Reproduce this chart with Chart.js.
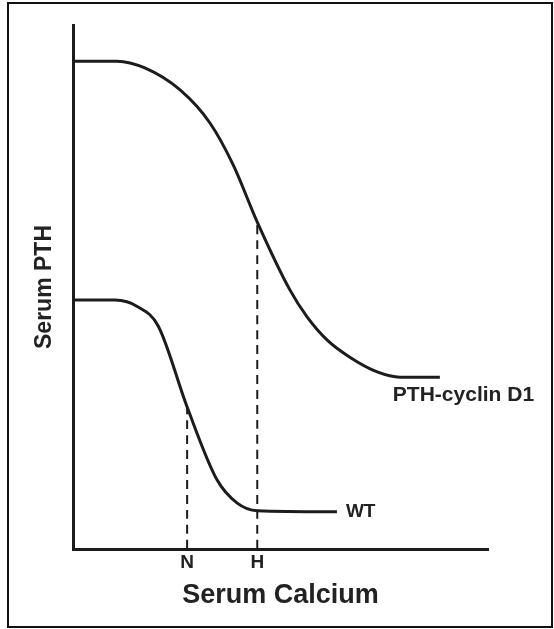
<!DOCTYPE html>
<html>
<head>
<meta charset="utf-8">
<script src="https://cdn.jsdelivr.net/npm/chart.js@4/dist/chart.umd.min.js"></script>
<style>
  html, body { margin: 0; padding: 0; background: #fff; }
  #wrap { position: relative; width: 554px; height: 629px; }
  #frame { position: absolute; left: 7px; top: 2px; width: 546px; height: 626px; box-sizing: border-box; border: 2px solid #111; pointer-events: none; }
</style>
</head>
<body>
<div id="wrap">
  <canvas id="c"></canvas>
  <div id="frame"></div>
</div>
<script>
// ---- data (relative units) ----
const calciumCyclin = [0, 10.6, 17.3, 25.8, 33.0, 38.6, 44.4, 52.3, 56.4, 61.2, 66.7, 73.3, 78.8, 88.4];
const pthCyclin     = [93.1, 93.1, 91.8, 87.6, 81.3, 73.3, 62.4, 49.4, 44.3, 39.9, 36.6, 33.8, 32.8, 32.8];
const calciumWT = [0, 10.1, 15.7, 20.5, 27.5, 34.7, 39.5, 44.4, 63.6];
const pthWT     = [47.5, 47.5, 46.2, 42.6, 27.1, 13.2, 8.8, 7.3, 7.1];
const seriesNames = ['PTH-cyclin D1', 'WT'];
const tickLabels = ['N', 'H'];
const tickValues = [27.5, 44.4];
const guideTops  = [27.1, 62.4];
const xTitle = 'Serum Calcium';
const yTitle = 'Serum PTH';

const ink = '#1c1c1c';
const FONT = '"Liberation Sans", Arial, Helvetica, sans-serif';

const toPts = (xs, ys) => xs.map((x, i) => ({ x, y: ys[i] }));

const curveStyle = { borderColor: ink, borderWidth: 3, pointRadius: 0, fill: false, cubicInterpolationMode: 'monotone', clip: false };
const guideStyle = { borderColor: ink, borderWidth: 2, pointRadius: 0, fill: false, borderDash: [9, 6], clip: false };

const datasets = [
  Object.assign({ label: seriesNames[0], data: toPts(calciumCyclin, pthCyclin) }, curveStyle),
  Object.assign({ label: seriesNames[1], data: toPts(calciumWT, pthWT) }, curveStyle),
];
tickValues.forEach((v, i) => {
  datasets.push(Object.assign({ label: 'guide ' + tickLabels[i], data: [{ x: v, y: 0 }, { x: v, y: guideTops[i] }] }, guideStyle));
});

// series labels placed next to the end of each curve (pixel offsets)
const labelOffsets = [ { dx: -47, dy: 18 }, { dx: 9, dy: 0 } ];
const labelFonts = [ 'bold 21px ' + FONT, 'bold 19px ' + FONT ];

const seriesLabelPlugin = {
  id: 'seriesLabels',
  afterDatasetsDraw(chart) {
    const { ctx, scales: { x, y } } = chart;
    ctx.save();
    ctx.fillStyle = '#222';
    ctx.textAlign = 'left';
    ctx.textBaseline = 'middle';
    [0, 1].forEach(i => {
      const d = chart.data.datasets[i].data;
      const last = d[d.length - 1];
      const px = x.getPixelForValue(last.x) + labelOffsets[i].dx;
      const py = y.getPixelForValue(last.y) + labelOffsets[i].dy;
      ctx.font = labelFonts[i];
      ctx.fillText(seriesNames[i], px, py);
    });
    ctx.restore();
  }
};

new Chart(document.getElementById('c'), {
  type: 'line',
  data: { datasets },
  options: {
    responsive: true,
    maintainAspectRatio: false,
    animation: false,
    layout: { padding: { top: 25, right: 66, left: 27, bottom: 17.4 } },
    plugins: { legend: { display: false }, tooltip: { enabled: false } },
    elements: { line: { tension: 0.4 } },
    scales: {
      x: {
        type: 'linear', min: 0, max: 100,
        grid: { display: false, drawTicks: false },
        border: { display: true, color: ink, width: 3 },
        afterBuildTicks: s => { s.ticks = tickValues.map(v => ({ value: v })); },
        afterFit: s => { s.height = 62.6; },
        ticks: {
          autoSkip: false, maxRotation: 0, padding: 2,
          color: '#222', font: { family: FONT, size: 19, weight: 'bold' },
          callback: v => { const i = tickValues.indexOf(v); return i >= 0 ? tickLabels[i] : ''; }
        },
        title: { display: true, text: xTitle, color: '#222', padding: 0, font: { family: FONT, size: 27, weight: 'bold' } }
      },
      y: {
        type: 'linear', min: 0, max: 100,
        grid: { display: false, drawTicks: false },
        border: { display: true, color: ink, width: 3 },
        ticks: { display: false },
        afterFit: s => { s.width = 46; },
        title: { display: true, text: yTitle, color: '#222', padding: 4, font: { family: FONT, size: 23, weight: 'bold' } }
      }
    }
  },
  plugins: [seriesLabelPlugin]
});
</script>
</body>
</html>
